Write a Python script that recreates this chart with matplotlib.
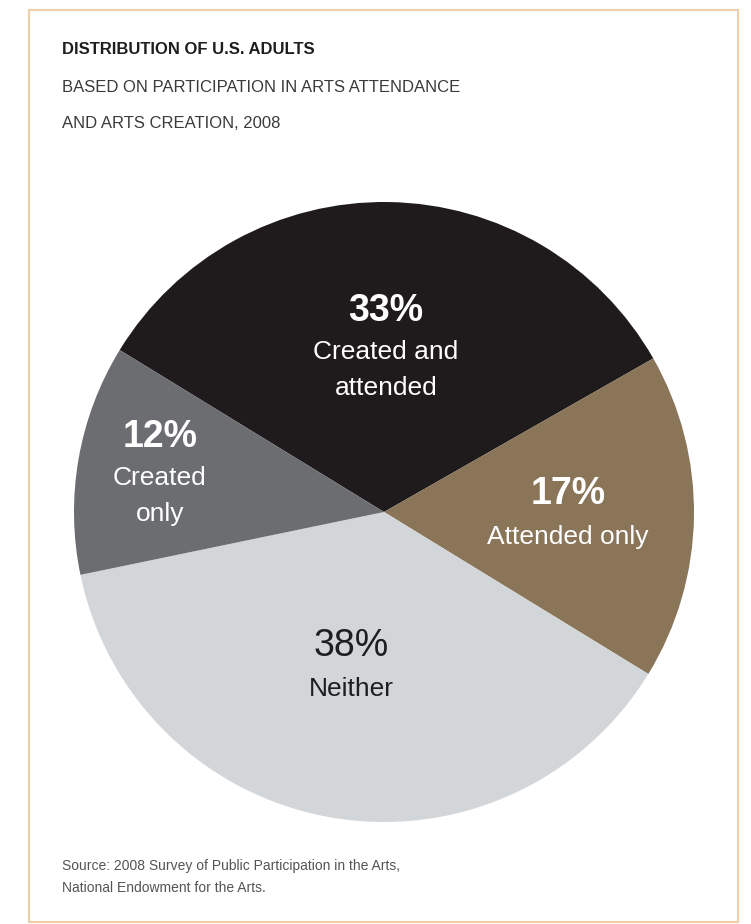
import matplotlib
matplotlib.use("Agg")
import matplotlib.pyplot as plt
from matplotlib.patches import Rectangle

# Data
categories = ["Created and attended", "Attended only", "Neither", "Created only"]
shares = [33, 17, 38, 12]
pct_labels = ["33%", "17%", "38%", "12%"]
colors = ["#1f1a1b", "#8a7559", "#d3d6d9", "#6b6d70"]

plt.rcParams['font.family'] = ['Liberation Sans', 'DejaVu Sans']

W, H = 751, 924
fig = plt.figure(figsize=(W / 100, H / 100), dpi=100)
fig.patch.set_facecolor("white")
ax = fig.add_axes([0, 0, 1, 1])

def py(y):
    # pixel row from top -> data y
    return H - y

# pie
ax.pie(shares, colors=colors, startangle=148.5, counterclock=False,
       center=(384, py(512)), radius=310, frame=True,
       wedgeprops=dict(linewidth=0))
ax.set_xlim(0, W)
ax.set_ylim(0, H)
ax.axis("off")

# frame
ax.add_patch(Rectangle((29, py(922)), 709, 912, fill=False, edgecolor="#efcfa8", lw=1.5))

# titles
ax.text(62, py(49), "DISTRIBUTION OF U.S. ADULTS", fontsize=12, fontweight="bold",
        color="#1e1e1e", va="center", ha="left")
ax.text(62, py(88), "BASED ON PARTICIPATION IN ARTS ATTENDANCE", fontsize=12,
        color="#3a3a3a", va="center", ha="left")
ax.text(62, py(124), "AND ARTS CREATION, 2008", fontsize=12,
        color="#3a3a3a", va="center", ha="left")

# slice labels: x, pct row, text centre row, text, colour
lab = [
    (386, 311, 370, "Created and\nattended", "white"),
    (568, 494, 537, "Attended only", "white"),
    (351, 646, 689, "Neither", "#1e1e1e"),
    (160, 437, 496, "Created\nonly", "white"),
]
for (x, yp, yt, txt, c), p in zip(lab, pct_labels):
    ax.text(x, py(yp), p, fontsize=27, fontweight="bold" if c == "white" else "normal",
            color=c, ha="center", va="center")
    ax.text(x, py(yt), txt, fontsize=19, color=c, ha="center", va="center",
            linespacing=1.6)

# source
ax.text(62, py(866), "Source: 2008 Survey of Public Participation in the Arts,", fontsize=10,
        color="#555555", va="center", ha="left")
ax.text(62, py(888), "National Endowment for the Arts.", fontsize=10,
        color="#555555", va="center", ha="left")

fig.savefig("out.png", dpi=100)
